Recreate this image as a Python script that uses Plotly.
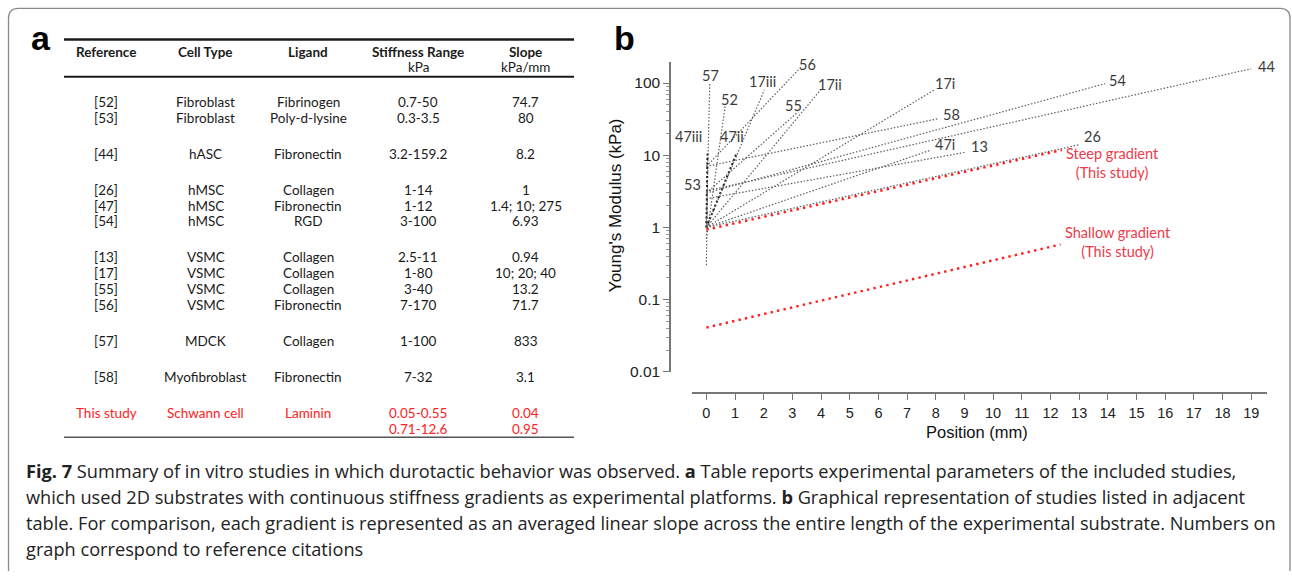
import plotly.graph_objects as go
import math

W, H = 1292, 579

# ---------------- data: panel a (table) ----------------
headers_top = ["Reference", "Cell Type", "Ligand", "Stiffness Range", "Slope"]
headers_unit = ["", "", "", "kPa", "kPa/mm"]
references = ["[52]", "[53]", "[44]", "[26]", "[47]", "[54]", "[13]", "[17]",
              "[55]", "[56]", "[57]", "[58]", "This study"]
cell_types = ["Fibroblast", "Fibroblast", "hASC", "hMSC", "hMSC", "hMSC", "VSMC",
              "VSMC", "VSMC", "VSMC", "MDCK", "Myofibroblast", "Schwann cell"]
ligands = ["Fibrinogen", "Poly-d-lysine", "Fibronectin", "Collagen", "Fibronectin",
           "RGD", "Collagen", "Collagen", "Collagen", "Fibronectin", "Collagen",
           "Fibronectin", "Laminin"]
stiffness_ranges = ["0.7-50", "0.3-3.5", "3.2-159.2", "1-14", "1-12", "3-100",
                    "2.5-11", "1-80", "3-40", "7-170", "1-100", "7-32",
                    "0.05-0.55\n0.71-12.6"]
slopes = ["74.7", "80", "8.2", "1", "1.4; 10; 275", "6.93", "0.94", "10; 20; 40",
          "13.2", "71.7", "833", "3.1", "0.04\n0.95"]
row_group = [0, 0, 1, 2, 2, 2, 3, 3, 3, 3, 4, 5, 6]

# ---------------- data: panel b (chart) ----------------
series_labels = ["57", "52", "47iii", "47ii", "47i", "53", "17iii", "17ii", "17i",
                 "56", "55", "58", "54", "44", "26", "13"]
series_x_end = [0.12, 0.66, 0.04, 1.07, 7.8, 0.04, 2.02, 4.0, 7.94,
                3.3, 3.2, 8.07, 13.9, 19.0, 13.0, 9.04]
series_y_start = [1, 0.7, 1, 1, 1, 0.3, 1, 1, 1, 7, 3, 7, 3, 3.2, 1, 2.5]
series_y_end = [100, 49, 10.5, 11, 11.7, 3.5, 80, 82, 80, 166, 40, 32, 98, 158, 14, 11]

study_labels = ["Steep gradient<br>(This study)", "Shallow gradient<br>(This study)"]
study_x_end = [12.4, 12.35]
study_y_start = [0.93, 0.041]
study_y_end = [11.8, 0.58]

x_tick_values = list(range(20))
y_tick_values = [0.01, 0.1, 1, 10, 100]
y_tick_text = ["0.01", "0.1", "1", "10", "100"]

caption_lines = [
    "<b>Fig. 7</b> Summary of in vitro studies in which durotactic behavior was observed. <b>a</b> Table reports experimental parameters of the included studies,",
    "which used 2D substrates with continuous stiffness gradients as experimental platforms. <b>b</b> Graphical representation of studies listed in adjacent",
    "table. For comparison, each gradient is represented as an averaged linear slope across the entire length of the experimental substrate. Numbers on",
    "graph correspond to reference citations",
]

# ---------------- layout helpers ----------------
def px(x):
    return x / W


def py(y):
    return 1 - y / H


TABLE_FONT = "Lato, Noto Sans, sans-serif"
LABEL_FONT = "Lato, Open Sans, sans-serif"
AXIS_FONT = "Liberation Sans, Arial, sans-serif"
RED_T = "#ff2222"
RED_C = "#ee3a48"

fig = go.Figure()

# ---------- chart traces ----------
dark = {"47iii", "47ii"}
for lab, xe, ys, ye in zip(series_labels, series_x_end, series_y_start, series_y_end):
    if lab in dark:
        ln = dict(color="#1a1a1a", width=2, dash="2px,2.5px")
    else:
        ln = dict(color="#5e5e5e", width=1.2, dash="1.5px,1.8px")
    fig.add_trace(go.Scatter(x=[0, xe], y=[ys, ye], mode="lines", line=ln,
                             showlegend=False, hoverinfo="skip"))

for lab, xe, ys, ye in zip(study_labels, study_x_end, study_y_start, study_y_end):
    fig.add_trace(go.Scatter(x=[0, xe], y=[ys, ye], mode="lines",
                             line=dict(color="#ff1f1f", width=2.4, dash="2.4px,4.2px"),
                             showlegend=False, hoverinfo="skip"))

annotations = []

# series labels, offset from line ends (pixels)
label_offsets = {
    "57": (1, 8), "52": (4, 6), "47iii": (-19, 17), "47ii": (-5, 16), "47i": (15, 6),
    "53": (-15, 4), "17iii": (-2, 9), "17ii": (9, 5), "17i": (11, 7), "56": (7, 3),
    "55": (-5, 6), "58": (14, 4), "54": (13, 3), "44": (15, 2), "26": (13, 8),
    "13": (14, 6),
}
for lab, xe, ye in zip(series_labels, series_x_end, series_y_end):
    dx, dy = label_offsets[lab]
    annotations.append(dict(x=xe, y=math.log10(ye), xref="x", yref="y", text=lab,
                            showarrow=False, xanchor="center", yanchor="middle",
                            xshift=dx, yshift=dy,
                            font=dict(family=LABEL_FONT, size=14.5, color="#3a3a3a")))

study_offsets = [(51, -13), (57, 2)]
for lab, xe, ye, (dx, dy) in zip(study_labels, study_x_end, study_y_end, study_offsets):
    annotations.append(dict(x=xe, y=math.log10(ye), xref="x", yref="y", text=lab,
                            showarrow=False, xanchor="center", yanchor="middle",
                            xshift=dx, yshift=dy, align="center",
                            font=dict(family=LABEL_FONT, size=14.5, color=RED_C)))

# axis titles
annotations.append(dict(x=px(615), y=py(208), xref="paper", yref="paper",
                        text="Young's Modulus (kPa)", textangle=-90, showarrow=False,
                        xanchor="center", yanchor="middle",
                        font=dict(family=AXIS_FONT, size=17, color="#111")))
annotations.append(dict(x=px(977), y=py(438), xref="paper", yref="paper",
                        text="Position (mm)", showarrow=False,
                        xanchor="center", yanchor="middle",
                        font=dict(family=AXIS_FONT, size=16.5, color="#111")))

# panel letters
for letter, xl in (("a", 29), ("b", 612)):
    annotations.append(dict(x=px(xl), y=py(38.5), xref="paper", yref="paper",
                            text="<b>%s</b>" % letter, showarrow=False,
                            xanchor="left", yanchor="middle",
                            font=dict(family=AXIS_FONT, size=34, color="#000")))

# ---------- table ----------
col_x = [106, 205.5, 308, 418, 525.5]
for cx, ht, hu in zip(col_x, headers_top, headers_unit):
    annotations.append(dict(x=px(cx), y=py(52.3), xref="paper", yref="paper",
                            text="<b>%s</b>" % ht, showarrow=False,
                            xanchor="center", yanchor="middle",
                            font=dict(family=TABLE_FONT, size=13.5, color="#1a1a1a")))
    if hu:
        annotations.append(dict(x=px(cx), y=py(67.7), xref="paper", yref="paper",
                                text=hu, showarrow=False,
                                xanchor="center", yanchor="middle",
                                font=dict(family=TABLE_FONT, size=13.5, color="#1a1a1a")))

ROW0, STEP, GAP = 103.3, 16.0, 20.6
columns = [references, cell_types, ligands, stiffness_ranges, slopes]
n_rows = len(references)
for i in range(n_rows):
    yrow = ROW0 + STEP * i + GAP * row_group[i]
    color = RED_T if references[i] == "This study" else "#1a1a1a"
    for cx, col in zip(col_x, columns):
        for k, part in enumerate(col[i].split("\n")):
            annotations.append(dict(x=px(cx), y=py(yrow + STEP * k), xref="paper",
                                    yref="paper", text=part, showarrow=False,
                                    xanchor="center", yanchor="middle",
                                    font=dict(family=TABLE_FONT, size=13.5, color=color)))

# ---------- caption ----------
for k, line in enumerate(caption_lines):
    annotations.append(dict(x=px(24), y=py(478 + 26.3 * k), xref="paper", yref="paper",
                            text=line, showarrow=False, xanchor="left", yanchor="middle",
                            font=dict(family="Open Sans, sans-serif", size=18.2,
                                      color="#222")))

shapes = []
# table rules
for yy, wdt, colr in ((40, 2.5, "#1a1a1a"), (77.7, 2, "#1a1a1a"), (443.3, 1.5, "#555")):
    shapes.append(dict(type="line", xref="paper", yref="paper", x0=px(64), x1=px(574),
                       y0=py(yy), y1=py(yy), line=dict(color=colr, width=wdt)))

# frame border (rounded top-left / top-right)
r = 10
path = ("M {a},{b} L {a},{c} Q {a},{d} {e},{d} L {f},{d} Q {g},{d} {g},{c} L {g},{b}"
        .format(a=px(8.5), b=py(579), c=py(8.5 + r), d=py(8.5), e=px(8.5 + r),
                f=px(1290 - r), g=px(1290)))
shapes.append(dict(type="path", xref="paper", yref="paper", path=path,
                   line=dict(color="#8a8a8a", width=1.3)))

minor_vals = [k * 10 ** e for e in (-2, -1, 0, 1) for k in range(2, 10)]

fig.update_layout(
    width=W, height=H, margin=dict(l=0, r=0, t=0, b=0),
    paper_bgcolor="white", plot_bgcolor="white",
    xaxis=dict(domain=[px(692), px(1267)], range=[-0.5, 19.55], anchor="free",
               position=py(399), showline=True, linecolor="#777", linewidth=1.5,
               ticks="outside", ticklen=6, tickwidth=1.2, tickcolor="#777",
               tickmode="array", tickvals=x_tick_values,
               tickfont=dict(family=AXIS_FONT, size=14.5, color="#222"),
               showgrid=False, zeroline=False),
    yaxis=dict(domain=[py(377), py(63)], type="log", range=[-2, 2.29], anchor="free",
               position=px(670), showline=True, linecolor="#777", linewidth=1.5,
               ticks="outside", ticklen=6, tickwidth=1.2, tickcolor="#777",
               tickmode="array", tickvals=y_tick_values, ticktext=y_tick_text,
               minor=dict(tickmode="array", tickvals=minor_vals, ticks="outside",
                          ticklen=3.5, tickcolor="#999", tickwidth=1),
               tickfont=dict(family=AXIS_FONT, size=15.5, color="#222"),
               showgrid=False, zeroline=False),
    annotations=annotations,
    shapes=shapes,
)

fig.write_html("out.html")
